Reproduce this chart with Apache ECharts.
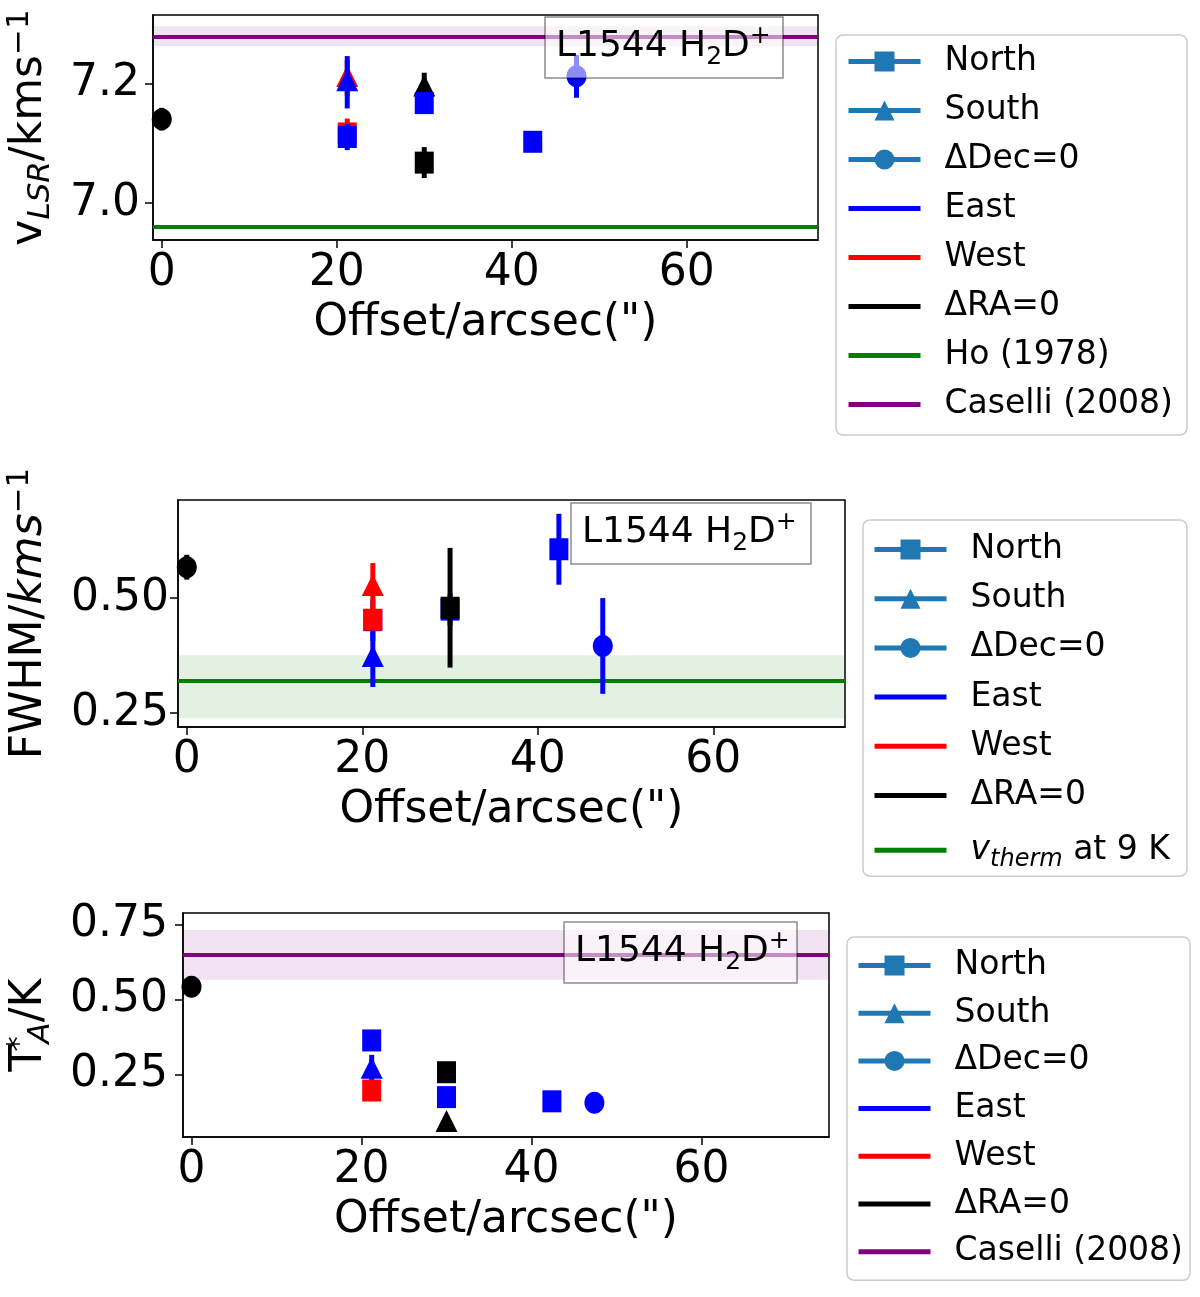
<!DOCTYPE html>
<html><head><meta charset="utf-8">
<script src="https://cdn.jsdelivr.net/npm/echarts@6/dist/echarts.min.js"></script>
<style>html,body{margin:0;padding:0;background:#fff}#c{width:1200px;height:1297px}</style>
</head><body><div id="c"></div>
<script>
const FONT = 'DejaVu Sans';
const xTicks = [0, 20, 40, 60];
const xMin = -1, xMax = 75;

// Panel 1: v_LSR
const vOffset = [0, 21.2, 21.2, 21.2, 21.2, 30, 30, 30, 42.4, 47.4];
const vLSR = [7.141, 7.21, 7.203, 7.117, 7.111, 7.194, 7.168, 7.068, 7.103, 7.213];
const vLSRErr = [0.019, 0.03, 0.044, 0.025, 0.022, 0.025, 0.01, 0.026, 0.008, 0.036];
const vDir = ['ΔRA=0', 'West', 'East', 'West', 'East', 'ΔRA=0', 'East', 'ΔRA=0', 'East', 'East'];
const vShape = ['circle', 'triangle', 'triangle', 'square', 'square', 'triangle', 'square', 'square', 'square', 'circle'];
const vTicks = [7.0, 7.2];
const vRange = [6.938, 7.316];
const hoVLSR = 6.956;
const caselliVLSR = [7.28, 7.264, 7.297];

// Panel 2: FWHM
const fOffset = [0, 21.2, 21.2, 21.2, 21.2, 30, 30, 42.4, 47.4];
const fwhm = [0.567, 0.452, 0.37, 0.524, 0.453, 0.475, 0.479, 0.606, 0.396];
const fwhmErr = [0.027, 0.045, 0.063, 0.052, 0.015, 0.035, 0.13, 0.077, 0.104];
const fDir = ['ΔRA=0', 'East', 'East', 'West', 'West', 'East', 'ΔRA=0', 'East', 'East'];
const fShape = ['circle', 'square', 'triangle', 'triangle', 'square', 'square', 'square', 'square', 'circle'];
const fTicks = [0.25, 0.5];
const fRange = [0.22, 0.713];
const vTherm = [0.322, 0.239, 0.376];

// Panel 3: T_A*
const tOffset = [0, 21.2, 21.2, 21.2, 30, 30, 30, 42.4, 47.4];
const tA = [0.544, 0.365, 0.267, 0.198, 0.259, 0.176, 0.09, 0.162, 0.157];
const tAErr = [0.01, 0.01, 0.05, 0.01, 0.01, 0.01, 0.01, 0.01, 0.012];
const tDir = ['ΔRA=0', 'East', 'East', 'West', 'ΔRA=0', 'East', 'ΔRA=0', 'East', 'East'];
const tShape = ['circle', 'square', 'triangle', 'square', 'square', 'square', 'triangle', 'square', 'circle'];
const tTicks = [0.25, 0.5, 0.75];
const tRange = [0.043, 0.79];
const caselliTA = [0.65, 0.567, 0.733];

const dirColor = { 'East': '#0000ff', 'West': '#ff0000', 'ΔRA=0': '#000000' };

const grids = [
  { left: 153, top: 15, width: 665, height: 225 },
  { left: 178, top: 500, width: 667, height: 227 },
  { left: 183, top: 913, width: 646, height: 224 }
].map(g => Object.assign({ show: true, borderColor: '#000', borderWidth: 1.5, backgroundColor: 'transparent',
  containLabel: false, outerBoundsMode: 'none' }, g));

function xAxisCfg(gi) {
  return {
    type: 'value', gridIndex: gi, min: xMin, max: xMax,
    axisLine: { show: true, onZero: false, lineStyle: { color: '#000', width: 1.5 } },
    axisTick: { show: true, customValues: xTicks, length: 8, lineStyle: { color: '#000', width: 1.5 } },
    axisLabel: { customValues: xTicks, fontSize: 44, color: '#000', fontFamily: FONT, margin: 12 },
    splitLine: { show: false },
    name: 'Offset/arcsec(")', nameLocation: 'middle', nameGap: 62,
    nameTextStyle: { fontSize: 44, color: '#000', fontFamily: FONT }
  };
}
function yAxisCfg(gi, range, ticks, dec, margin, name, gap, rich) {
  return {
    type: 'value', gridIndex: gi, min: range[0], max: range[1],
    axisLine: { show: true, onZero: false, lineStyle: { color: '#000', width: 1.5 } },
    axisTick: { show: true, customValues: ticks, length: 8, lineStyle: { color: '#000', width: 1.5 } },
    axisLabel: { customValues: ticks, fontSize: 44, color: '#000', fontFamily: FONT, margin: margin,
      formatter: v => v.toFixed(dec) },
    splitLine: { show: false },
    name: name, nameLocation: 'middle', nameGap: gap, nameRotate: 90,
    nameTextStyle: { fontSize: 44, color: '#000', fontFamily: FONT, lineHeight: 52, rich: rich }
  };
}

function pointsSeries(gi, xs, ys, es, dirs, shapes) {
  return {
    type: 'custom', xAxisIndex: gi, yAxisIndex: gi, clip: false, z: 5,
    data: xs.map((x, i) => ({ value: [x, ys[i], es[i]], itemStyle: { color: dirColor[dirs[i]] } })),
    renderItem: function (params, api) {
      const x = api.value(0), y = api.value(1), e = api.value(2);
      const c = api.visual('color');
      const p = api.coord([x, y]), lo = api.coord([x, y - e]), hi = api.coord([x, y + e]);
      const children = [{ type: 'line', shape: { x1: p[0], y1: lo[1], x2: p[0], y2: hi[1] }, style: { stroke: c, lineWidth: 5 } }];
      const s = shapes[params.dataIndex];
      if (s === 'square') {
        children.push({ type: 'rect', shape: { x: p[0] - 9.5, y: p[1] - 11, width: 19, height: 22 }, style: { fill: c } });
      } else if (s === 'circle') {
        children.push({ type: 'ellipse', shape: { cx: p[0], cy: p[1], rx: 10, ry: 11 }, style: { fill: c } });
      } else {
        children.push({ type: 'polygon', shape: { points: [[p[0], p[1] - 13], [p[0] - 11, p[1] + 9], [p[0] + 11, p[1] + 9]] }, style: { fill: c } });
      }
      return { type: 'group', children: children };
    }
  };
}

function refLine(gi, name, color, vals, band) {
  const s = {
    type: 'line', name: name, xAxisIndex: gi, yAxisIndex: gi, data: [], symbol: 'none', z: 1,
    lineStyle: { color: color, width: 5 }, itemStyle: { color: color },
    markLine: { silent: true, symbol: ['none', 'none'], label: { show: false },
      lineStyle: { color: color, width: 4, type: 'solid' }, data: [{ yAxis: vals[0] }] }
  };
  if (band) {
    s.markArea = { silent: true, itemStyle: { color: color === '#008000' ? 'rgba(0,128,0,0.11)' : 'rgba(128,0,128,0.11)' },
      data: [[{ yAxis: vals[1] }, { yAxis: vals[2] }]] };
  }
  return s;
}

function dummy(name, color, symbol) {
  return { type: 'line', name: name, xAxisIndex: 0, yAxisIndex: 0, data: [], symbol: symbol || 'none', symbolSize: 20,
    lineStyle: { color: color, width: 5 }, itemStyle: { color: color } };
}

const series = [
  dummy('North', '#1f77b4', 'rect'),
  dummy('South', '#1f77b4', 'triangle'),
  dummy('ΔDec=0', '#1f77b4', 'circle'),
  dummy('East', '#0000ff'),
  dummy('West', '#ff0000'),
  dummy('ΔRA=0', '#000000'),
  refLine(0, 'Ho (1978)', '#008000', [hoVLSR], false),
  refLine(0, 'Caselli (2008)', '#800080', caselliVLSR, true),
  refLine(1, 'vtherm', '#008000', vTherm, true),
  refLine(2, 'Caselli (2008)', '#800080', caselliTA, true),
  pointsSeries(0, vOffset, vLSR, vLSRErr, vDir, vShape),
  pointsSeries(1, fOffset, fwhm, fwhmErr, fDir, fShape),
  pointsSeries(2, tOffset, tA, tAErr, tDir, tShape)
];

const markerNames = ['North', 'South', 'ΔDec=0'];
function legendItems(names) {
  return names.map(n => markerNames.indexOf(n) >= 0 ? { name: n } :
    { name: n, itemStyle: { color: 'rgba(0,0,0,0)', opacity: 0, borderWidth: 0 } });
}
function legendCfg(left, top, names, padding, gap) {
  return {
    orient: 'vertical', left: left, top: top, data: legendItems(names), selectedMode: false,
    itemWidth: 72, itemHeight: 25, itemGap: gap, padding: padding,
    lineStyle: { width: 5 },
    borderColor: '#cccccc', borderWidth: 1.5, borderRadius: 7, backgroundColor: '#ffffff',
    formatter: n => n === 'vtherm' ? '{i|v}{s|therm} at 9 K' : n,
    textStyle: { fontSize: 33, color: '#000', fontFamily: FONT, lineHeight: 30, padding: [0, 0, 0, 19],
      rich: {
        i: { fontSize: 33, fontStyle: 'italic', fontFamily: FONT, color: '#000', lineHeight: 30 },
        s: { fontSize: 24, fontStyle: 'italic', fontFamily: FONT, color: '#000', lineHeight: 4, padding: [20, 0, 0, 0] }
      } }
  };
}
const baseNames = ['North', 'South', 'ΔDec=0', 'East', 'West', 'ΔRA=0'];

const boxRich = {
  b: { fontSize: 36, fontFamily: FONT, fontWeight: 'normal', color: '#000', lineHeight: 46 },
  sub: { fontSize: 25, fontFamily: FONT, fontWeight: 'normal', color: '#000', verticalAlign: 'bottom', lineHeight: 20 },
  sup: { fontSize: 25, fontFamily: FONT, fontWeight: 'normal', color: '#000', verticalAlign: 'top', lineHeight: 26 }
};
function boxTitle(left, top, padR) {
  return {
    text: '{b|L1544 H}{sub|2}{b|D}{sup|+}', left: left, top: top, padding: [7, padR, 8, 11],
    backgroundColor: 'rgba(255,255,255,0.55)', borderColor: 'rgba(0,0,0,0.45)', borderWidth: 1.5,
    textStyle: { fontWeight: 'normal', fontFamily: FONT, fontSize: 36, rich: boxRich }, z: 20
  };
}

const option = {
  animation: false,
  backgroundColor: '#fff',
  textStyle: { fontFamily: FONT },
  title: [boxTitle(545, 17, 12), boxTitle(571, 503, 14), boxTitle(564, 922, 7)],
  grid: grids,
  xAxis: [xAxisCfg(0), xAxisCfg(1), xAxisCfg(2)],
  yAxis: [
    yAxisCfg(0, vRange, vTicks, 1, 13, 'v{sub|LSR}/kms{sup|−1}', 97, {
      sub: { fontSize: 31, fontStyle: 'italic', fontFamily: FONT, color: '#000', verticalAlign: 'bottom', lineHeight: 26 },
      sup: { fontSize: 31, fontFamily: FONT, color: '#000', verticalAlign: 'top', lineHeight: 24 }
    }),
    yAxisCfg(1, fRange, fTicks, 2, 9, 'FWHM/{it|kms}{sup|−1}', 122, {
      it: { fontSize: 44, fontStyle: 'italic', fontFamily: FONT, color: '#000', lineHeight: 52 },
      sup: { fontSize: 31, fontFamily: FONT, color: '#000', verticalAlign: 'top', lineHeight: 24 }
    }),
    yAxisCfg(2, tRange, tTicks, 2, 15, 'T{sup|*}{sub|A}/K', 127, {
      sup: { fontSize: 31, fontFamily: FONT, color: '#000', verticalAlign: 'top', lineHeight: 24, width: 1 },
      sub: { fontSize: 31, fontStyle: 'italic', fontFamily: FONT, color: '#000', verticalAlign: 'bottom', lineHeight: 26 }
    })
  ],
  legend: [
    legendCfg(836, 35, baseNames.concat(['Ho (1978)', 'Caselli (2008)']), [10, 14, 14, 10], 16),
    legendCfg(863, 520, baseNames.concat(['vtherm']), [13, 17, 4, 9], 16.2),
    legendCfg(847, 937, baseNames.concat(['Caselli (2008)']), [12, 7, 12, 9], 14.7)
  ],
  series: series
};
const chart = echarts.init(document.getElementById('c'), null, { renderer: 'canvas' });
chart.setOption(option);
</script></body></html>
